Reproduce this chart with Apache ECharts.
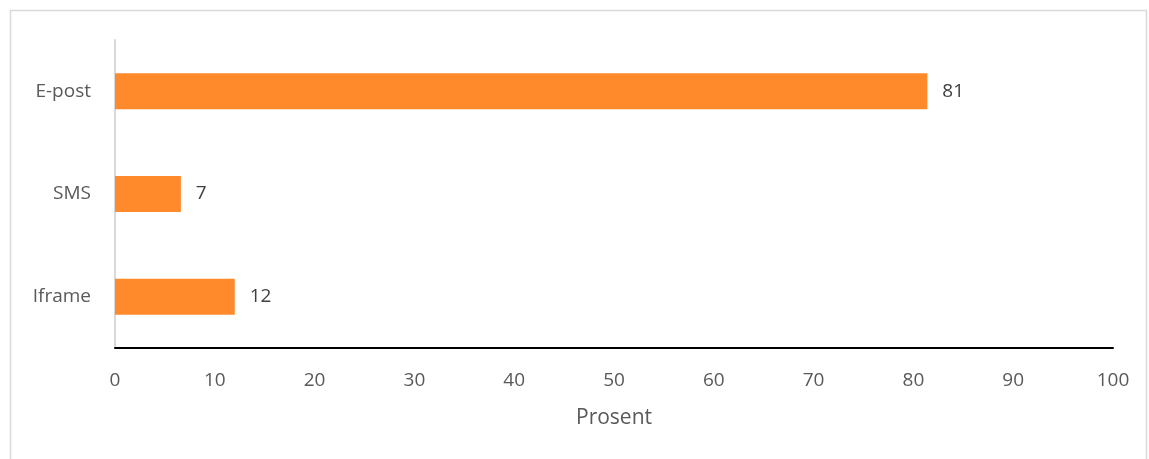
<!DOCTYPE html>
<html>
<head>
<meta charset="utf-8">
<script src="https://cdn.jsdelivr.net/npm/echarts@6/dist/echarts.min.js"></script>
<style>
html,body{margin:0;padding:0;background:#fff;}
#chart{width:1149px;height:459px;}
</style>
</head>
<body>
<div id="chart"></div>
<script>
const categories = ['Iframe', 'SMS', 'E-post'];
const values = [12.0, 6.6, 81.4];
const xTicks = [0, 10, 20, 30, 40, 50, 60, 70, 80, 90, 100];
const xAxisTitle = 'Prosent';

const font = 'Open Sans, Noto Sans, sans-serif';
const chart = echarts.init(document.getElementById('chart'));
chart.setOption({
  animation: false,
  backgroundColor: '#ffffff',
  graphic: [{
    type: 'rect',
    shape: { x: 10.5, y: 10.5, width: 1136, height: 460 },
    style: { fill: 'none', stroke: '#d9d9d9', lineWidth: 1.5 },
    silent: true
  }],
  grid: { left: 115, right: 36, top: 40, bottom: 111, containLabel: false },
  xAxis: {
    type: 'value',
    min: xTicks[0],
    max: xTicks[xTicks.length - 1],
    interval: 10,
    name: xAxisTitle,
    nameLocation: 'middle',
    nameGap: 60,
    nameTextStyle: { color: '#595959', fontSize: 21, fontFamily: font },
    axisLine: { show: true, lineStyle: { color: '#000000', width: 2 } },
    axisTick: { show: false },
    splitLine: { show: false },
    axisLabel: { color: '#595959', fontSize: 19, fontFamily: font, margin: 23 }
  },
  yAxis: {
    type: 'category',
    data: categories,
    axisLine: { show: true, lineStyle: { color: '#d9d9d9', width: 2 } },
    axisTick: { show: false },
    splitLine: { show: false },
    axisLabel: { color: '#595959', fontSize: 19, fontFamily: font, margin: 24 }
  },
  series: [{
    type: 'bar',
    data: values,
    barWidth: 36,
    itemStyle: { color: '#FF8A2B' },
    label: {
      show: true,
      position: 'right',
      distance: 15,
      color: '#404040',
      fontSize: 19,
      fontFamily: font,
      formatter: p => Math.round(p.value)
    }
  }]
});
</script>
</body>
</html>
